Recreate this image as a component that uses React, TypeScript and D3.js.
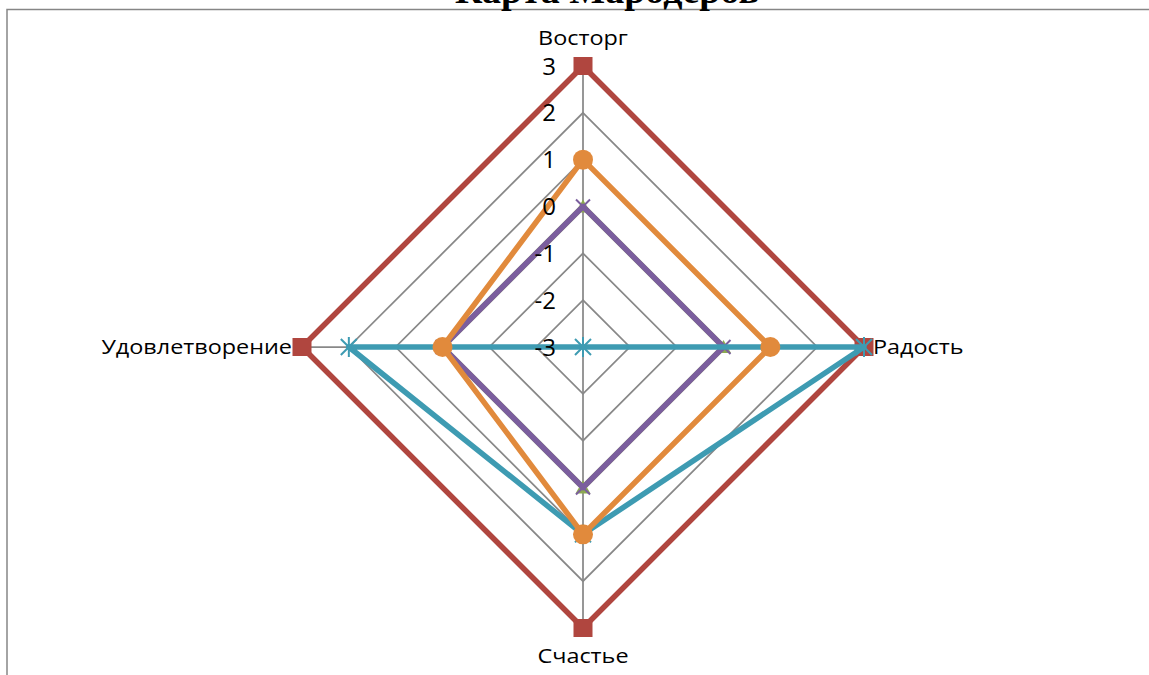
import React from "react";
import * as d3 from "d3";

// Radar axes, clockwise from the top
const categories = ["Восторг", "Радость", "Счастье", "Удовлетворение"];
const tickValues = [-3, -2, -1, 0, 1, 2, 3];

// Series values per axis
const seriesRed = [3, 3, 3, 3];
const seriesGreen = [0, 0, 0, 0];
const seriesPurple = [0, 0, 0, 0];
const seriesTeal = [-3, 3, 1, 2];
const seriesOrange = [1, 1, 1, 0];

const title = "Карта Мародеров";

type Marker = "square" | "triangle" | "x" | "star" | "circle";

const series: { name: string; values: number[]; color: string; marker: Marker }[] = [
  { name: "red", values: seriesRed, color: "#B0463F", marker: "square" },
  { name: "green", values: seriesGreen, color: "#8CAA50", marker: "triangle" },
  { name: "purple", values: seriesPurple, color: "#7B5E9E", marker: "x" },
  { name: "teal", values: seriesTeal, color: "#3E9BB2", marker: "star" },
  { name: "orange", values: seriesOrange, color: "#E18A3C", marker: "circle" },
];

const W = 1149;
const H = 675;
const cx = 583;
const cy = 347;
const R = 281;
const FONT = "'Open Sans', 'Noto Sans', sans-serif";

const rScale = d3.scaleLinear().domain([-3, 3]).range([0, R]);
const angle = (i: number) => (i * 2 * Math.PI) / categories.length;
const pt = (i: number, v: number): [number, number] => [
  cx + rScale(v) * Math.sin(angle(i)),
  cy - rScale(v) * Math.cos(angle(i)),
];

function MarkerShape({ m, x, y, color }: { m: Marker; x: number; y: number; color: string }) {
  switch (m) {
    case "square":
      return <rect x={x - 9.5} y={y - 9} width={19} height={18} fill={color} />;
    case "circle":
      return <circle cx={x} cy={y} r={10} fill={color} />;
    case "triangle":
      return (
        <path
          d={`M${x},${y - 7}L${x + 7.5},${y + 6}L${x - 7.5},${y + 6}Z`}
          fill={color}
        />
      );
    case "x":
      return (
        <path
          d={`M${x - 7},${y - 7}L${x + 7},${y + 7}M${x - 7},${y + 7}L${x + 7},${y - 7}`}
          stroke={color}
          strokeWidth={2}
        />
      );
    case "star":
      return (
        <path
          d={`M${x - 8},${y - 8}L${x + 8},${y + 8}M${x - 8},${y + 8}L${x + 8},${y - 8}M${x},${y - 10}L${x},${y + 10}`}
          stroke={color}
          strokeWidth={2}
        />
      );
  }
}

// Category label with a slightly widened face
function CatLabel({ x, y, anchor, text }: { x: number; y: number; anchor: string; text: string }) {
  return (
    <g transform={`translate(${x},${y}) scale(1.2,1)`}>
      <text x={0} y={0} dy="0.35em" textAnchor={anchor} fontFamily={FONT} fontSize={19.5} fill="#000">
        {text}
      </text>
    </g>
  );
}

export default function App() {
  const line = d3
    .line<[number, number]>()
    .x((d) => d[0])
    .y((d) => d[1])
    .curve(d3.curveLinearClosed);

  return (
    <div style={{ position: "fixed", left: 0, top: 0 }}>
      <svg width={W} height={H} style={{ display: "block", background: "#fff" }}>
        {/* chart frame */}
        <rect x={7} y={9.5} width={1300} height={800} fill="none" stroke="#868686" strokeWidth={1.5} />
        <text
          x={607}
          y={3}
          textAnchor="middle"
          fontFamily="'Liberation Serif', 'Times New Roman', serif"
          fontWeight="bold"
          fontSize={38}
          fill="#000"
        >
          {title}
        </text>

        {/* grid rings */}
        {tickValues.slice(1).map((t) => (
          <path
            key={t}
            d={line(categories.map((_, i) => pt(i, t))) || ""}
            fill="none"
            stroke="#888"
            strokeWidth={1.75}
          />
        ))}
        {/* spokes */}
        {categories.map((_, i) => {
          const [x, y] = pt(i, 3);
          return <line key={i} x1={cx} y1={cy} x2={x} y2={y} stroke="#888" strokeWidth={1.75} />;
        })}

        {/* series */}
        {series.map((s) => (
          <g key={s.name}>
            <path
              d={line(s.values.map((v, i) => pt(i, v))) || ""}
              fill="none"
              stroke={s.color}
              strokeWidth={5.5}
              strokeLinejoin="round"
            />
            {s.values.map((v, i) => {
              const [x, y] = pt(i, v);
              return <MarkerShape key={i} m={s.marker} x={x} y={y} color={s.color} />;
            })}
          </g>
        ))}

        {/* axis tick labels */}
        {tickValues.map((t) => (
          <text
            key={t}
            x={556}
            y={cy - rScale(t)}
            dy="0.36em"
            textAnchor="end"
            fontFamily={FONT}
            fontSize={24}
            fill="#000"
          >
            {t}
          </text>
        ))}

        {/* category labels */}
        <CatLabel x={cx} y={38} anchor="middle" text={categories[0]} />
        <CatLabel x={873} y={cy} anchor="start" text={categories[1]} />
        <CatLabel x={cx} y={656} anchor="middle" text={categories[2]} />
        <CatLabel x={292} y={cy} anchor="end" text={categories[3]} />
      </svg>
    </div>
  );
}
